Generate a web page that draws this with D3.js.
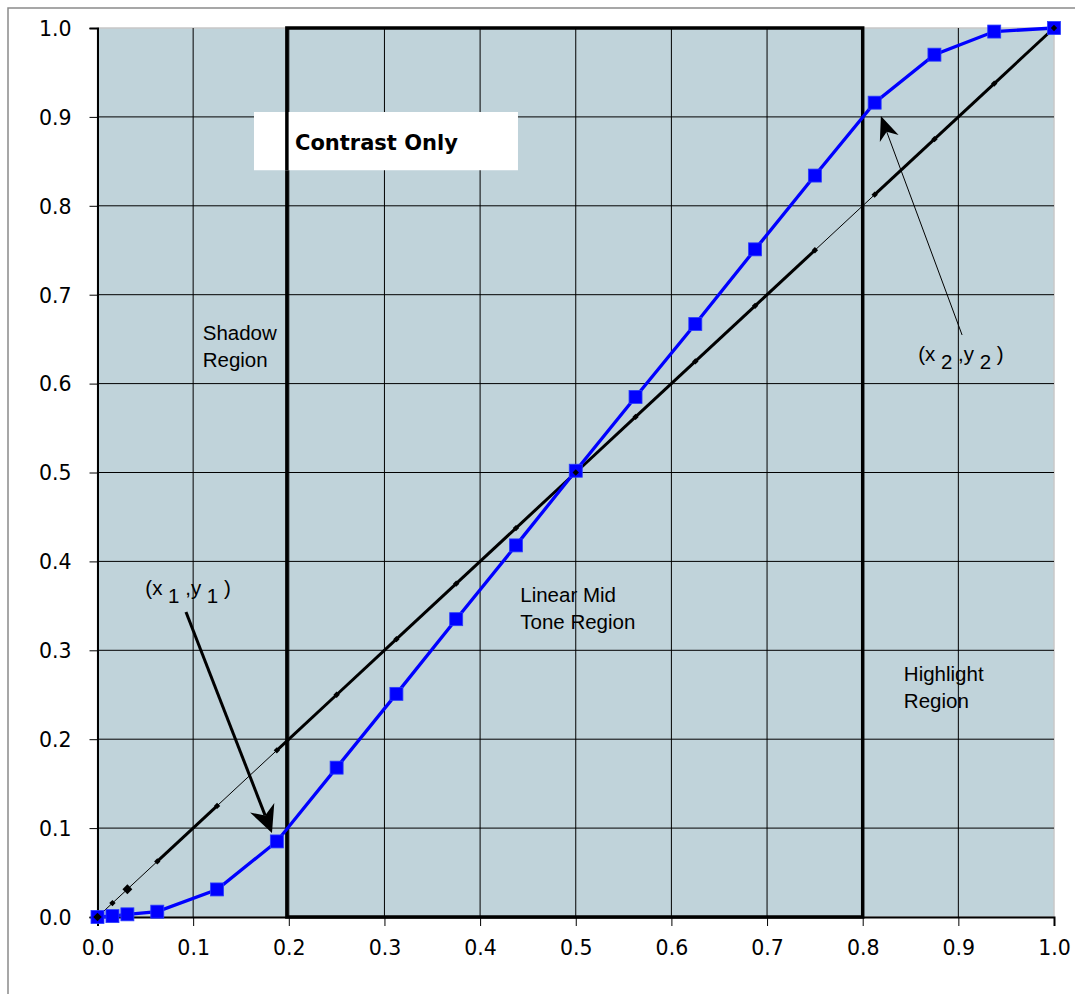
<!DOCTYPE html>
<html lang="en">
<head>
    <meta charset="UTF-8">
    <title>Contrast Only</title>
    <style>
        body { margin: 0; background: #fff; }
    </style>
</head>
<body>
<script src="https://cdn.jsdelivr.net/npm/d3@7/dist/d3.min.js"></script>
<script>
    // data
    var xs = [0, 0.015625, 0.03125, 0.0625, 0.125, 0.1875, 0.25, 0.3125, 0.375, 0.4375,
              0.5, 0.5625, 0.625, 0.6875, 0.75, 0.8125, 0.875, 0.9375, 1.0];
    var curveY = [0, 0.001, 0.003, 0.006, 0.031, 0.085, 0.168, 0.251, 0.335, 0.418,
                  0.502, 0.585, 0.667, 0.751, 0.834, 0.916, 0.970, 0.996, 1.0];
    var linearY = xs.slice();
    // which segments of the straight line Excel drew heavy
    var heavySeg = [0, 0, 0, 1, 0, 1, 1, 1, 1, 1, 1, 1, 1, 1, 0, 1, 1, 1];
    var xTicks = [0, 0.1, 0.2, 0.3, 0.4, 0.5, 0.6, 0.7, 0.8, 0.9, 1.0];
    var yTicks = [0, 0.1, 0.2, 0.3, 0.4, 0.5, 0.6, 0.7, 0.8, 0.9, 1.0];
    var regionBox = [0.198, 0.8];

    var W = 1075, H = 994;
    var plotLeft = 97.5, plotRight = 1054, plotTop = 28, plotBottom = 917;

    var svg = d3.select("body").append("svg")
            .attr("width", W)
            .attr("height", H);

    // outer chart frame
    svg.append("path")
            .attr("d", "M 8," + H + " L 8,8 L " + W + ",8")
            .style("fill", "none")
            .style("stroke", "#8a8a8a")
            .style("stroke-width", 1.5);

    var x = d3.scaleLinear().domain([0, 1]).range([plotLeft, plotRight]);
    var y = d3.scaleLinear().domain([0, 1]).range([plotBottom, plotTop]);

    // plot area
    svg.append("rect")
            .attr("x", x(0)).attr("y", y(1))
            .attr("width", x(1) - x(0)).attr("height", y(0) - y(1))
            .style("fill", "#c0d3da")
            .style("stroke", "#c8c8c8")
            .style("stroke-width", 1.5);

    // grid
    svg.append("g").selectAll("line").data(xTicks.slice(1, -1)).enter().append("line")
            .attr("x1", function(d) { return x(d); }).attr("x2", function(d) { return x(d); })
            .attr("y1", y(0)).attr("y2", y(1))
            .style("stroke", "#000").style("stroke-width", 1);
    svg.append("g").selectAll("line").data(yTicks.slice(1, -1)).enter().append("line")
            .attr("y1", function(d) { return y(d); }).attr("y2", function(d) { return y(d); })
            .attr("x1", x(0)).attr("x2", x(1))
            .style("stroke", "#000").style("stroke-width", 1);

    // axes
    var xAxis = svg.append("g")
            .attr("transform", "translate(0," + y(0) + ")")
            .call(d3.axisBottom(x).tickValues(xTicks).tickFormat(d3.format(".1f")).tickSize(9).tickPadding(14));
    var yAxis = svg.append("g")
            .attr("transform", "translate(" + x(0) + ",0)")
            .call(d3.axisLeft(y).tickValues(yTicks).tickFormat(d3.format(".1f")).tickSize(8).tickPadding(18));
    [xAxis, yAxis].forEach(function(a) {
        a.select(".domain").style("stroke", "#000").style("stroke-width", 2);
        a.selectAll(".tick line").style("stroke", "#000").style("stroke-width", 1);
        a.selectAll(".tick text")
                .style("font-family", "'DejaVu Sans', Verdana, sans-serif")
                .style("font-size", "20.5px")
                .style("fill", "#000");
    });
    yAxis.selectAll(".tick text").attr("dy", "0.36em");
    xAxis.selectAll(".tick text").attr("dy", "0.74em");

    // the contrast region box
    svg.append("rect")
            .attr("x", x(regionBox[0])).attr("y", y(1))
            .attr("width", x(regionBox[1]) - x(regionBox[0]))
            .attr("height", y(0) - y(1))
            .style("fill", "none")
            .style("stroke", "#000")
            .style("stroke-width", 3.5);

    // straight line y = x, thin everywhere, heavy on some segments
    svg.append("path")
            .datum(xs.map(function(d, i) { return [d, linearY[i]]; }))
            .attr("d", d3.line().x(function(d) { return x(d[0]); }).y(function(d) { return y(d[1]); }))
            .style("fill", "none").style("stroke", "#000").style("stroke-width", 1);
    svg.append("g").selectAll("line")
            .data(heavySeg.map(function(h, i) { return {h: h, i: i}; }).filter(function(d) { return d.h; }))
            .enter().append("line")
            .attr("x1", function(d) { return x(xs[d.i]); })
            .attr("y1", function(d) { return y(linearY[d.i]); })
            .attr("x2", function(d) { return x(xs[d.i + 1]); })
            .attr("y2", function(d) { return y(linearY[d.i + 1]); })
            .style("stroke", "#000").style("stroke-width", 3);

    // blue curve
    svg.append("path")
            .datum(xs.map(function(d, i) { return [d, curveY[i]]; }))
            .attr("d", d3.line().x(function(d) { return x(d[0]); }).y(function(d) { return y(d[1]); }))
            .style("fill", "none").style("stroke", "#0000ff").style("stroke-width", 3.3);
    svg.append("g").selectAll("rect").data(xs).enter().append("rect")
            .attr("x", function(d) { return x(d) - 6.5; })
            .attr("y", function(d, i) { return y(curveY[i]) - 6.5; })
            .attr("width", 13).attr("height", 13)
            .style("fill", "#0000ff")
            .style("stroke", "#2a3cff").style("stroke-width", 0.8);

    // black diamonds on the straight line
    svg.append("g").selectAll("path").data(xs).enter().append("path")
            .attr("transform", function(d, i) {
                return "translate(" + x(d) + "," + y(linearY[i]) + ") rotate(45)";
            })
            .attr("d", function(d, i) {
                var s = (i === 2) ? 7 : (i === 0 ? 6 : 4.5);
                return "M" + (-s / 2) + "," + (-s / 2) + "h" + s + "v" + s + "h" + (-s) + "Z";
            })
            .style("fill", "#000");

    // "Contrast Only" label box
    svg.append("rect")
            .attr("x", x(0.1636)).attr("y", y(0.9055))
            .attr("width", x(0.4396) - x(0.1636)).attr("height", y(0.840) - y(0.9055))
            .style("fill", "#fff");
    // box edge redrawn over the white label
    svg.append("line")
            .attr("x1", x(regionBox[0])).attr("x2", x(regionBox[0]))
            .attr("y1", y(0.9055)).attr("y2", y(0.840))
            .style("stroke", "#000").style("stroke-width", 3.5);
    svg.append("text")
            .attr("x", x(0.2065)).attr("y", y(0.8628))
            .text("Contrast Only")
            .style("font-family", "'DejaVu Sans', Verdana, sans-serif")
            .style("font-weight", "bold")
            .style("font-size", "21px");

    // region labels
    var regionLabels = [
        {x: 0.110, y: 0.649, lines: ["Shadow", "Region"]},
        {x: 0.442, y: 0.354, lines: ["Linear Mid", "Tone Region"]},
        {x: 0.843, y: 0.265, lines: ["Highlight", "Region"]}
    ];
    regionLabels.forEach(function(r) {
        var t = svg.append("text")
                .attr("x", x(r.x)).attr("y", y(r.y))
                .style("font-family", "'Liberation Sans', Arial, sans-serif")
                .style("font-size", "20.5px");
        r.lines.forEach(function(s, k) {
            t.append("tspan").attr("x", x(r.x)).attr("dy", k ? 27 : 0).text(s);
        });
    });

    // point labels with subscripts
    function pointLabel(px, py, n) {
        var t = svg.append("text")
                .attr("x", x(px)).attr("y", y(py))
                .style("font-family", "'Liberation Sans', Arial, sans-serif")
                .style("font-size", "20.5px");
        t.append("tspan").text("(x ");
        t.append("tspan").attr("dy", 8).text(n);
        t.append("tspan").attr("dy", -8).text(" ,y ");
        t.append("tspan").attr("dy", 8).text(n);
        t.append("tspan").attr("dy", -8).text(" )");
    }
    pointLabel(0.050, 0.362, "1");
    pointLabel(0.858, 0.625, "2");

    // arrows
    function arrow(x0, y0, x1, y1, w, len, half) {
        var ax = x(x0), ay = y(y0), bx = x(x1), by = y(y1);
        var a = Math.atan2(by - ay, bx - ax);
        var ux = Math.cos(a), uy = Math.sin(a);
        var back = [bx - ux * len, by - uy * len];
        var notch = [bx - ux * len * 0.7, by - uy * len * 0.7];
        svg.append("line")
                .attr("x1", ax).attr("y1", ay)
                .attr("x2", notch[0]).attr("y2", notch[1])
                .style("stroke", "#000").style("stroke-width", w);
        svg.append("path")
                .attr("d", "M" + bx + "," + by +
                        "L" + (back[0] - uy * half) + "," + (back[1] + ux * half) +
                        "L" + notch[0] + "," + notch[1] +
                        "L" + (back[0] + uy * half) + "," + (back[1] - ux * half) + "Z")
                .style("fill", "#000");
    }
    arrow(0.0925, 0.343, 0.1824, 0.0945, 3, 27, 13);
    arrow(0.9039, 0.6547, 0.819, 0.901, 1, 24, 10);
</script>
</body>
</html>
